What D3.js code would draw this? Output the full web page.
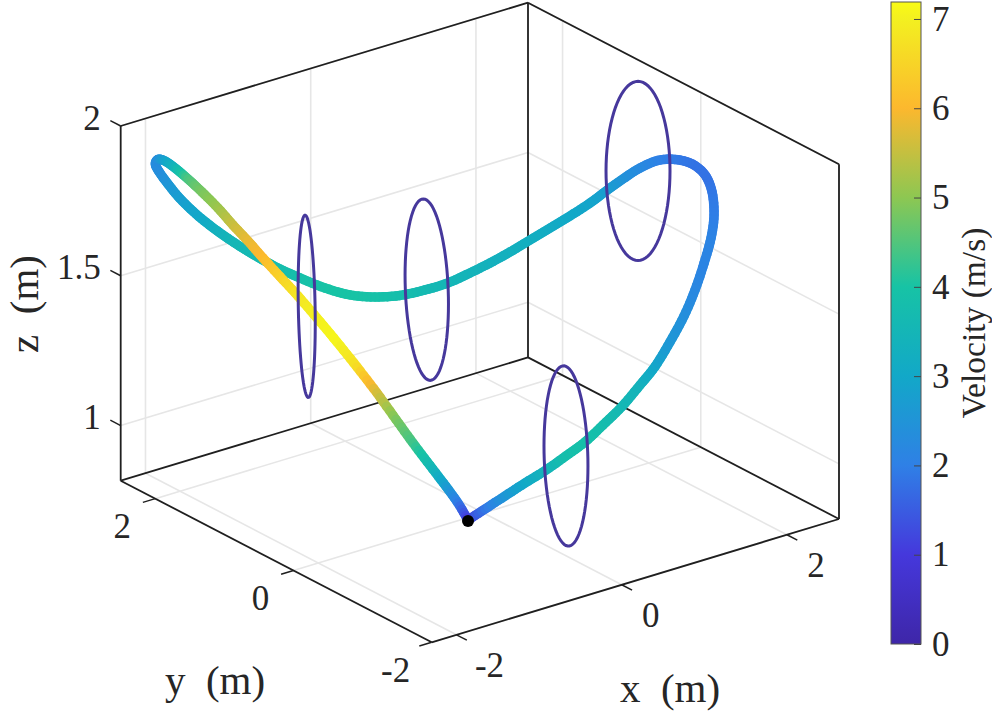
<!DOCTYPE html>
<html><head><meta charset="utf-8">
<script src="https://cdn.jsdelivr.net/npm/d3@7/dist/d3.min.js"></script>
<style>html,body{margin:0;padding:0;background:#fff}svg{display:block}text{font-family:"Liberation Serif",serif;fill:#262626}</style>
</head><body><svg id="c" width="992" height="714"></svg>
<script>
const xTicks=[-2,0,2], yTicks=[-2,0,2], zTicks=[1,1.5,2], cTicks=[0,1,2,3,4,5,6,7];
const xLabels=["-2","0","2"], yLabels=["-2","0","2"], zLabels=["1","1.5","2"];
const pathX=[-1.033,-0.873,-0.706,-0.494,-0.362,-0.223,-0.092,0.075,0.272,0.506,0.672,0.928,1.197,1.443,1.689,1.890,2.031,2.222,2.419,2.482,2.418,2.361,2.246,2.086,1.911,1.700,1.488,1.247,1.005,0.764,0.537,0.325,0.054,-0.181,-0.453,-0.667,-0.828,-0.917,-1.049,-1.246,-1.420,-1.580,-1.724,-1.853,-1.961,-2.032,-1.998,-1.986,-1.984,-1.979,-1.948,-1.930,-1.904,-1.900,-1.881,-1.840,-1.784,-1.744,-1.710,-1.683,-1.685,-1.620,-1.571,-1.536,-1.516,-1.467,-1.403,-1.325,-1.169,-1.033];
const pathY=[-1.011,-1.066,-1.155,-1.191,-1.338,-1.460,-1.579,-1.640,-1.679,-1.661,-1.679,-1.590,-1.471,-1.336,-1.173,-1.033,-0.908,-0.651,-0.314,-0.051,0.119,0.297,0.419,0.475,0.511,0.490,0.527,0.527,0.528,0.529,0.548,0.584,0.578,0.630,0.667,0.773,0.942,1.198,1.402,1.455,1.507,1.562,1.635,1.714,1.816,1.963,2.177,2.308,2.375,2.345,2.281,2.157,2.000,1.802,1.594,1.426,1.276,1.106,0.901,0.673,0.396,0.184,-0.048,-0.295,-0.546,-0.733,-0.903,-1.041,-1.028,-1.011];
const pathZ=[1.00,1.03,1.07,1.10,1.15,1.20,1.25,1.30,1.35,1.40,1.45,1.50,1.55,1.60,1.65,1.70,1.75,1.78,1.78,1.78,1.78,1.76,1.73,1.70,1.67,1.65,1.62,1.60,1.58,1.56,1.54,1.52,1.51,1.50,1.50,1.50,1.50,1.50,1.52,1.56,1.60,1.64,1.68,1.72,1.76,1.80,1.82,1.84,1.86,1.88,1.88,1.87,1.85,1.83,1.80,1.76,1.72,1.68,1.64,1.60,1.56,1.50,1.44,1.38,1.32,1.26,1.20,1.14,1.07,1.00];
const pathV=[1.0,1.8,2.5,3.0,3.4,3.8,3.9,3.8,3.6,3.4,3.0,2.6,2.4,2.2,2.1,2.1,2.0,1.9,1.8,1.8,1.9,2.0,2.2,2.4,2.7,2.9,3.0,3.1,3.2,3.3,3.3,3.4,3.5,3.6,3.8,3.9,4.0,4.0,3.9,3.8,3.7,3.6,3.5,3.3,3.0,2.8,2.6,2.4,2.3,2.3,2.8,3.4,4.4,4.8,5.1,5.5,5.8,6.0,6.4,6.8,7.0,7.1,6.7,5.7,4.9,4.4,3.7,2.8,2.0,1.0];
const gateX=[-1.68,-0.163,2.23,-0.223], gateY=[0.55,0.626,0.43,-1.46], gateZ=[1.58,1.5,1.72,1.2];
const gateDx=[-0.185,-0.046,0.245,0.021], gateDy=[-0.345,-0.369,-0.17,-0.293], gateDz=[0.299,0.299,0.299,0.299];
const parula=["#3e26a8","#4538dc","#2f80e6","#12a8c8","#17c3a5","#8dc752","#fcb82e","#f3f020","#f9fb15"];
const parulaAt=[0,1,2,3,4,5,6,7,7.19];

const svg=d3.select("#c");
const INK="#1f1f1f";
const sx=d3.scaleLinear().domain([-2.3,2.63]).range([0,1]);
const sy=d3.scaleLinear().domain([-2,2.5]).range([0,1]);
const sz=d3.scaleLinear().domain([0.816,2]).range([0,-354.7]);
const F=[431.7,642.3], UX=[407.3,-123.3], UY=[-311,-161.6];
const proj=(x,y,z)=>[F[0]+sx(x)*UX[0]+sy(y)*UY[0], F[1]+sx(x)*UX[1]+sy(y)*UY[1]+sz(z)];
const [x0,x1]=sx.domain(),[y0,y1]=sy.domain(),[z0,z1]=sz.domain();
const line=d3.line();
const seg=(g,a,b,c,w)=>g.append("path").attr("d",line([a,b])).attr("stroke",c).attr("stroke-width",w).attr("fill","none");

// grid
const grid=svg.append("g"); const GC="#e6e6e6";
xTicks.forEach(x=>{seg(grid,proj(x,y0,z0),proj(x,y1,z0),GC,1.6);seg(grid,proj(x,y1,z0),proj(x,y1,z1),GC,1.6);});
yTicks.forEach(y=>{seg(grid,proj(x0,y,z0),proj(x1,y,z0),GC,1.6);seg(grid,proj(x1,y,z0),proj(x1,y,z1),GC,1.6);});
zTicks.forEach(z=>{seg(grid,proj(x0,y1,z),proj(x1,y1,z),GC,1.6);seg(grid,proj(x1,y1,z),proj(x1,y0,z),GC,1.6);});

// box
const box=svg.append("g");
[[[x0,y1,z0],[x0,y0,z0]],[[x0,y0,z0],[x1,y0,z0]],[[x0,y1,z0],[x1,y1,z0]],[[x1,y1,z0],[x1,y0,z0]],
 [[x0,y1,z0],[x0,y1,z1]],[[x1,y1,z0],[x1,y1,z1]],[[x1,y0,z0],[x1,y0,z1]],
 [[x0,y1,z1],[x1,y1,z1]],[[x1,y1,z1],[x1,y0,z1]]].forEach(([a,b])=>seg(box,proj(...a),proj(...b),INK,1.8));
xTicks.forEach(x=>seg(box,proj(x,y0,z0),proj(x,y0-0.15,z0),INK,1.5));
yTicks.forEach(y=>seg(box,proj(x0,y,z0),proj(x0-0.15,y,z0),INK,1.5));
zTicks.forEach(z=>seg(box,proj(x0,y1,z),proj(x0,y1+0.15,z),INK,1.5));

// tick labels
const TF=35;
const lab=(p,t,a)=>svg.append("text").attr("x",p[0]).attr("y",p[1]).attr("dy","0.33em").attr("text-anchor",a||"middle").attr("font-size",TF).text(t);
xTicks.forEach((x,i)=>{const p=proj(x,y0,z0);lab([p[0]+29+(xLabels[i].length>1?4:0),p[1]+31],xLabels[i]);});
yTicks.forEach((y,i)=>{const p=proj(x0,y,z0);lab([p[0]-33-(yLabels[i].length>1?3:0),p[1]+28],yLabels[i]);});
zTicks.forEach((z,i)=>{const p=proj(x0,y1,z);lab([p[0]-20,p[1]-8],zLabels[i],"end");});

// axis titles
const title=(x,y,t,fs,rot)=>svg.append("text").attr("transform",`translate(${x},${y})`+(rot?" rotate(-90)":"")).attr("text-anchor","middle").attr("dy","0.33em").attr("font-size",fs).text(t);
title(215,680,"y\u00a0\u00a0(m)",41);
title(670,688,"x\u00a0\u00a0(m)",41);
title(24,304,"z\u00a0\u00a0(m)",41,true);
title(974,323,"Velocity (m/s)",33.5,true);

// colour
const vc=d3.scaleLinear().domain(parulaAt).range(parula).interpolate(d3.interpolateRgb).clamp(true);

// trajectory: each span between read points is drawn as a Catmull-Rom arc
const pts=pathX.map((_,i)=>proj(pathX[i],pathY[i],pathZ[i]));
const cr=(a,b,c,d,t)=>0.5*((2*b)+(c-a)*t+(2*a-5*b+4*c-d)*t*t+(3*b-a-3*c+d)*t*t*t);
const traj=svg.append("g").attr("fill","none").attr("stroke-linecap","round").attr("stroke-width",9.5);
const STEPS=6;
pts.slice(1).forEach((_,i)=>{
  const p0=pts[Math.max(i-1,0)],p1=pts[i],p2=pts[i+1],p3=pts[Math.min(i+2,pts.length-1)];
  const at=t=>[cr(p0[0],p1[0],p2[0],p3[0],t),cr(p0[1],p1[1],p2[1],p3[1],t)];
  d3.range(STEPS).forEach(k=>{
    const t0=k/STEPS,t1=(k+1)/STEPS;
    traj.append("path").attr("d",line([at(t0),at(t1)])).attr("stroke",vc(pathV[i]+(pathV[i+1]-pathV[i])*(t0+t1)/2));
  });
});

// gates
const gates=svg.append("g");
const ring=d3.range(0,2*Math.PI+0.01,Math.PI/40);
gateX.forEach((gx,i)=>{
  const r=ring.map(t=>proj(gx+Math.cos(t)*gateDx[i],gateY[i]+Math.cos(t)*gateDy[i],gateZ[i]+Math.sin(t)*gateDz[i]));
  gates.append("path").attr("d",line(r)).attr("fill","none").attr("stroke","#46389c").attr("stroke-width",3);
});

// start marker
const s=pts[0];
svg.append("circle").attr("cx",s[0]).attr("cy",s[1]+1).attr("r",6).attr("fill","#000");

// colourbar
const cb=d3.scaleLinear().domain([0,7.19]).range([644,2]);
const defs=svg.append("defs");
const lg=defs.append("linearGradient").attr("id","cbg").attr("x1",0).attr("x2",0).attr("y1",1).attr("y2",0);
parulaAt.forEach((v,i)=>lg.append("stop").attr("offset",v/7.19).attr("stop-color",parula[i]));
svg.append("rect").attr("x",891).attr("y",2).attr("width",30).attr("height",642).attr("fill","url(#cbg)").attr("stroke","#555").attr("stroke-width",1);
const ax=svg.append("g").attr("transform","translate(921,0)").call(d3.axisRight(cb).tickValues(cTicks).tickSize(-7).tickPadding(11).tickFormat(d3.format("d")));
ax.select(".domain").remove();
ax.selectAll("line").attr("stroke","#444").attr("stroke-width",1);
ax.selectAll("text").attr("font-size",TF).attr("font-family",'"Liberation Serif",serif').attr("fill","#1f1f1f");
</script></body></html>
